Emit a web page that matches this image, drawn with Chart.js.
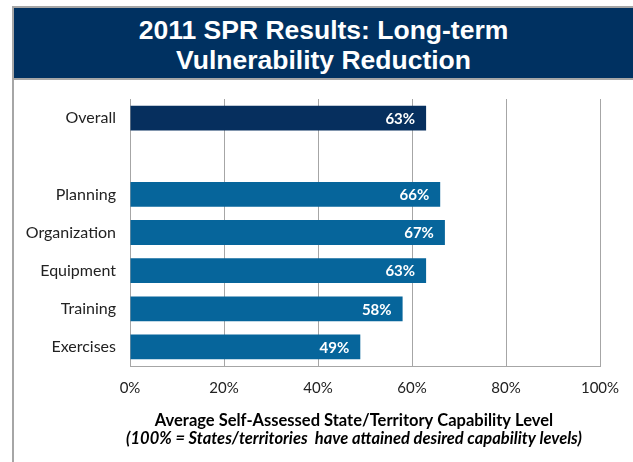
<!DOCTYPE html>
<html>
<head>
<meta charset="utf-8">
<script src="https://cdn.jsdelivr.net/npm/chart.js@4"></script>
<style>
  body { margin: 0; background: #fff; }
  #wrap { position: relative; width: 633px; height: 462px; overflow: hidden; }
  #frame { position: absolute; left: 12px; top: 6px; width: 640px; height: 480px;
           border-top: 2px solid #a6a6a6; border-left: 2px solid #a6a6a6; }
  #banner { position: absolute; left: 14px; top: 8px; width: 619px; height: 72px;
            background: #003161; border-bottom: 2px solid #a6a6a6;
            color: #fff; font: bold 26.5px 'Liberation Sans', Arial, sans-serif;
            text-align: center; line-height: 30px; padding-top: 7px; box-sizing: border-box; }
  #box { position: absolute; left: 14px; top: 82px; width: 619px; height: 380px; }
</style>
</head>
<body>
<div id="wrap">
  <div id="frame"></div>
  <div id="banner">2011 SPR Results: Long-term<br>Vulnerability Reduction</div>
  <div id="box"><canvas id="chart-spr"></canvas></div>
</div>
<script>
var categories = ['Overall', '', 'Planning', 'Organization', 'Equipment', 'Training', 'Exercises'];
var values = [63, null, 66, 67, 63, 58, 49];
var barColors = ['#062f5e', '#06659b', '#06659b', '#06659b', '#06659b', '#06659b', '#06659b'];
var tickValues = [0, 20, 40, 60, 80, 100];
var axisTitle = 'Average Self-Assessed State/Territory Capability Level';
var axisNote = '(100% = States/territories  have attained desired capability levels)';

Chart.defaults.font.family = 'Lato'
Chart.defaults.font.size = 15
Chart.defaults.color = '#222'

// white % labels at the end of each bar + two-line axis caption
var barLabels = {
    id: 'barLabels',
    afterDatasetsDraw: function(chart) {
        var ctx = chart.ctx;
        var meta = chart.getDatasetMeta(0);
        ctx.save();
        ctx.fillStyle = '#fff';
        ctx.font = 'bold 15px Lato';
        ctx.textAlign = 'right';
        ctx.textBaseline = 'middle';
        meta.data.forEach(function(bar, i) {
            if (values[i] == null) return;
            ctx.fillText(values[i] + '%', bar.x - 11, bar.y + 1);
        });

        ctx.fillStyle = '#000';
        ctx.textAlign = 'center';
        ctx.font = 'bold 16.5px Lato';
        ctx.fillText(axisTitle, 340, 339);
        ctx.font = 'italic bold 16.5px Lato';
        ctx.fillText(axisNote, 340, 357);
        ctx.restore();
    }
};

var ctx = document.getElementById('chart-spr').getContext('2d');

var sprChart = new Chart(ctx, {
    type: 'bar',
    data: {
        labels: categories,
        datasets: [{
            data: values,
            backgroundColor: barColors,
            borderWidth: 0,
            barPercentage: 0.65,
            categoryPercentage: 1
        }]
    },
    options: {
        indexAxis: 'y',
        responsive: true,
        maintainAspectRatio: false,
        animation: false,
        plugins: {
            legend: { display: false },
            tooltip: { enabled: false }
        },
        scales: {
            x: {
                min: 0,
                max: 100,
                afterBuildTicks: function(axis) {
                    axis.ticks = tickValues.map(function(v) { return { value: v }; });
                },
                afterFit: function(axis) { axis.height = 96; },
                ticks: {
                    callback: function(v) { return v + '%'; },
                    color: '#222',
                    padding: 13
                },
                grid: { color: '#a6a6a6', drawTicks: false },
                border: { color: '#a6a6a6' }
            },
            y: {
                afterFit: function(axis) {
                    axis.width = 116;
                    axis.paddingTop = 0;
                    axis.paddingBottom = 0;
                },
                ticks: { color: '#222', padding: 14, font: { size: 16 } },
                grid: { display: false, drawTicks: false },
                border: { color: '#a6a6a6' }
            }
        },
        layout: {
            padding: { top: 17, right: 33, left: 0, bottom: 0 }
        }
    },
    plugins: [barLabels]
});
</script>
</body>
</html>
